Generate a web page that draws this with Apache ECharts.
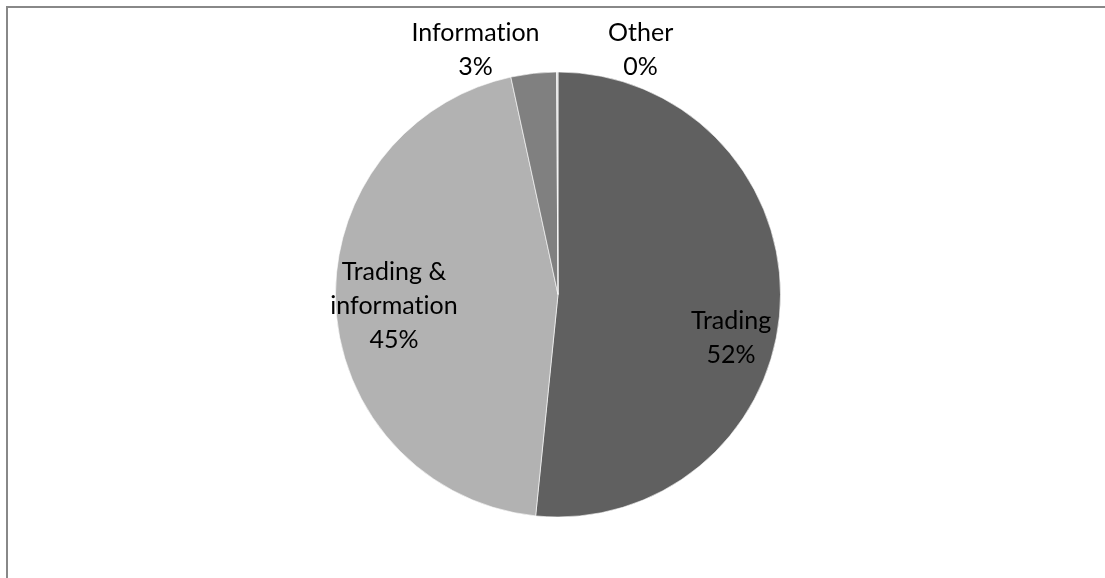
<!DOCTYPE html>
<html>
<head>
<meta charset="utf-8">
<script src="https://cdn.jsdelivr.net/npm/echarts@6/dist/echarts.min.js"></script>
<style>
  html, body { margin: 0; padding: 0; background: #ffffff; }
  #chart { width: 1105px; height: 578px; }
</style>
</head>
<body>
<div id="chart"></div>
<script>
// Share of activity types (percent)
const categories = ['Trading', 'Trading & information', 'Information', 'Other'];
const labelNames = ['Trading', 'Trading &\ninformation', 'Information', 'Other'];
const shares = [51.6, 45.0, 3.3, 0.1];
const sliceColors = ['#606060', '#b2b2b2', '#808080', '#d9d9d9'];
// Label nudges away from the default inside position
const labelShift = [[59, 38], [-50, 5], [-70, -131], [83, -130]];

const chart = echarts.init(document.getElementById('chart'), null, { renderer: 'canvas' });

// keep "t" and "i" as separate glyphs (no ligature)
function noLigature(s) {
  return s.replace(/ti/g, 't\u200Ci');
}

chart.setOption({
  backgroundColor: '#ffffff',
  animation: false,
  graphic: [{
    type: 'rect',
    shape: { x: 7, y: 7, width: 1300, height: 800 },
    style: { fill: 'none', stroke: '#888888', lineWidth: 2 },
    silent: true
  }],
  series: [{
    type: 'pie',
    center: [558, 294.5],
    radius: [0, 222.5],
    startAngle: 90,
    clockwise: true,
    avoidLabelOverlap: false,
    minAngle: 0,
    itemStyle: { borderColor: '#ffffff', borderWidth: 0.6 },
    label: {
      show: true,
      position: 'inside',
      color: '#000000',
      fontFamily: 'Lato',
      fontSize: 25,
      lineHeight: 34,
      align: 'center',
      formatter: function (p) {
        return noLigature(labelNames[p.dataIndex]) + '\n' + Math.round(p.percent) + '%';
      }
    },
    labelLine: { show: false },
    labelLayout: function (p) {
      return { dx: labelShift[p.dataIndex][0], dy: labelShift[p.dataIndex][1] };
    },
    emphasis: { disabled: true },
    data: categories.map(function (name, i) {
      return { name: name, value: shares[i], itemStyle: { color: sliceColors[i] } };
    })
  }]
});
</script>
</body>
</html>
